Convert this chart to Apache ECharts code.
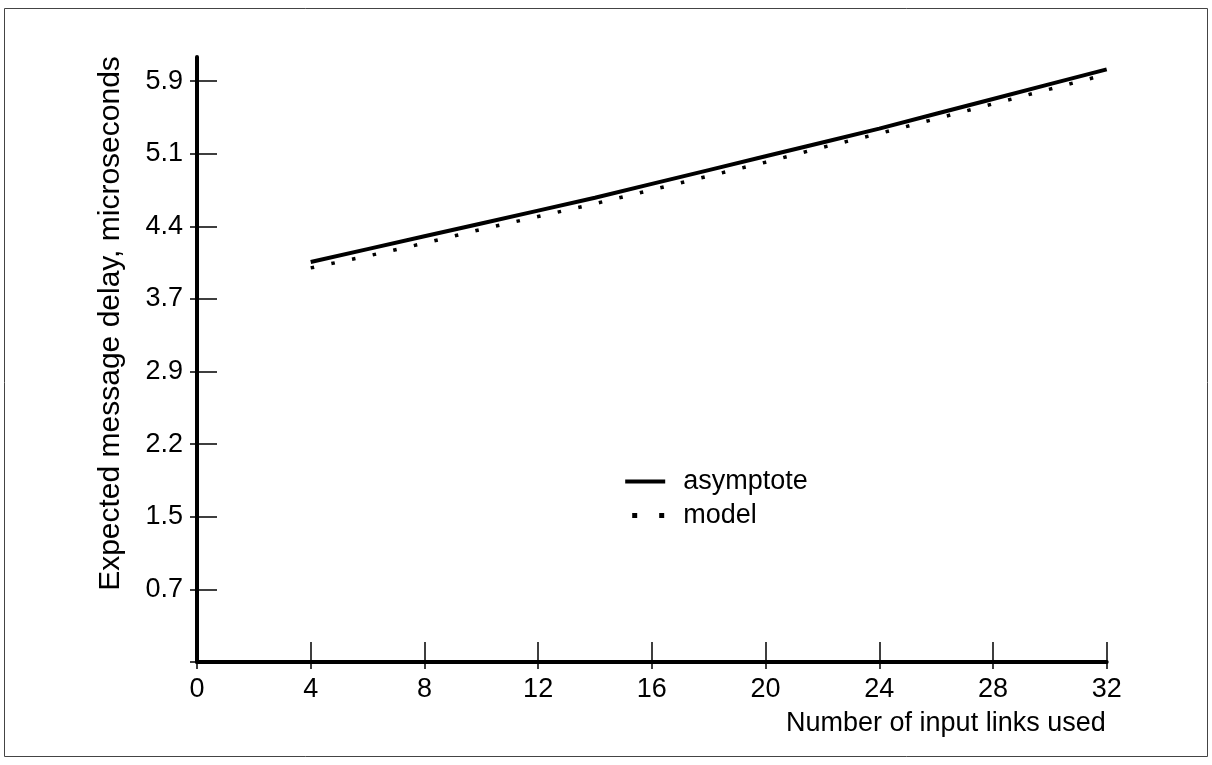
<!DOCTYPE html>
<html>
<head>
<meta charset="utf-8">
<script src="https://cdn.jsdelivr.net/npm/echarts@6/dist/echarts.min.js"></script>
<style>
html,body{margin:0;padding:0;background:#fff;}
#chart{width:1212px;height:765px;}
</style>
</head>
<body>
<div id="chart"></div>
<script>
// ---- data ----
const linksUsed = [4, 6, 8, 10, 12, 14, 16, 18, 20, 22, 24, 26, 28, 30, 32];
const asymptoteDelay = [4.05, 4.18, 4.31, 4.44, 4.57, 4.70, 4.84, 4.98, 5.12, 5.26, 5.40, 5.55, 5.70, 5.85, 6.00];
const modelDelay = [3.99, 4.11, 4.24, 4.38, 4.51, 4.64, 4.78, 4.92, 5.06, 5.21, 5.35, 5.50, 5.65, 5.80, 5.95];
const xTicks = [0, 4, 8, 12, 16, 20, 24, 28, 32];
const yTicks = [0, 0.735, 1.47, 2.205, 2.94, 3.675, 4.41, 5.145, 5.88];
const yLabelTicks = [0.735, 1.47, 2.205, 2.94, 3.675, 4.41, 5.145, 5.88];
const seriesNames = ['asymptote', 'model'];
const xName = 'Number of input links used';
const yName = 'Expected message delay, microseconds';

const FONT = 'Liberation Sans, Arial, Helvetica, sans-serif';
const chart = echarts.init(document.getElementById('chart'), null, {renderer: 'canvas'});

function pairs(xs, ys) { return xs.map((x, i) => [x, ys[i]]); }

const xMax = 32, yMax = 6.125;
const hiddenSymbol = {color: 'rgba(0,0,0,0)', borderWidth: 0, opacity: 0};

const option = {
  animation: false,
  backgroundColor: '#fff',
  grid: {left: 197, right: 105.3, top: 57, bottom: 103, outerBoundsMode: 'none'},
  graphic: [{
    type: 'rect', silent: true, z: -1,
    shape: {x: 4.5, y: 8.5, width: 1203, height: 748},
    style: {fill: 'none', stroke: '#444', lineWidth: 1}
  }],
  legend: {
    orient: 'vertical', left: 622.7, top: 468, padding: 0, itemGap: 7,
    itemWidth: 40, itemHeight: 14,
    textStyle: {fontFamily: FONT, fontSize: 27, color: '#000', padding: [0, 0, 0, 13]},
    data: [
      {name: seriesNames[0], itemStyle: hiddenSymbol, lineStyle: {width: 4, type: 'solid', color: '#000', opacity: 1}},
      {name: seriesNames[1], itemStyle: hiddenSymbol, lineStyle: {width: 5, type: [5, 22], dashOffset: -7, color: '#000', opacity: 1}}
    ]
  },
  xAxis: [{
    type: 'value', min: 0, max: xMax, interval: 4,
    name: xName, nameLocation: 'end', nameGap: 0, nameMoveOverlap: false,
    nameTextStyle: {fontFamily: FONT, fontSize: 27, color: '#000', align: 'right', verticalAlign: 'top', padding: [48, 1, 0, 0]},
    axisLine: {show: true, onZero: false, lineStyle: {color: '#000', width: 4}},
    axisTick: {show: true, inside: true, length: 20, customValues: xTicks, lineStyle: {color: '#000', width: 1.5}},
    axisLabel: {show: true, margin: 14, customValues: xTicks, fontFamily: FONT, fontSize: 27, color: '#000'},
    splitLine: {show: false}
  }, {
    type: 'value', min: 0, max: xMax, interval: 4, position: 'bottom',
    axisLine: {show: false, onZero: false},
    axisTick: {show: true, inside: false, length: 7, customValues: xTicks, lineStyle: {color: '#000', width: 1.5}},
    axisLabel: {show: false},
    splitLine: {show: false}
  }],
  yAxis: [{
    type: 'value', min: 0, max: yMax,
    name: yName, nameLocation: 'middle', nameGap: 71, nameMoveOverlap: false,
    nameTextStyle: {fontFamily: FONT, fontSize: 30, color: '#000', padding: [0, 0, 0, 72]},
    axisLine: {show: true, onZero: false, lineStyle: {color: '#000', width: 4}},
    axisTick: {show: true, inside: true, length: 20, customValues: yTicks, lineStyle: {color: '#000', width: 1.5}},
    axisLabel: {show: true, margin: 14, customValues: yLabelTicks, fontFamily: FONT, fontSize: 27, color: '#000',
      formatter: v => v.toFixed(1)},
    splitLine: {show: false}
  }, {
    type: 'value', min: 0, max: yMax, position: 'left',
    axisLine: {show: false, onZero: false},
    axisTick: {show: true, inside: false, length: 7, customValues: yTicks, lineStyle: {color: '#000', width: 1.5}},
    axisLabel: {show: false},
    splitLine: {show: false}
  }],
  series: [{
    name: seriesNames[0], type: 'line', xAxisIndex: 0, yAxisIndex: 0,
    data: pairs(linksUsed, asymptoteDelay),
    symbol: 'none', clip: false, z: 3,
    color: '#000',
    lineStyle: {color: '#000', width: 4, type: 'solid', cap: 'butt'}
  }, {
    name: seriesNames[1], type: 'line', xAxisIndex: 0, yAxisIndex: 0,
    data: pairs(linksUsed, modelDelay),
    symbol: 'none', clip: false, z: 3,
    color: '#000',
    lineStyle: {color: '#000', width: 3.5, type: [3.5, 17.6], cap: 'butt'}
  }]
};
chart.setOption(option);
</script>
</body>
</html>
